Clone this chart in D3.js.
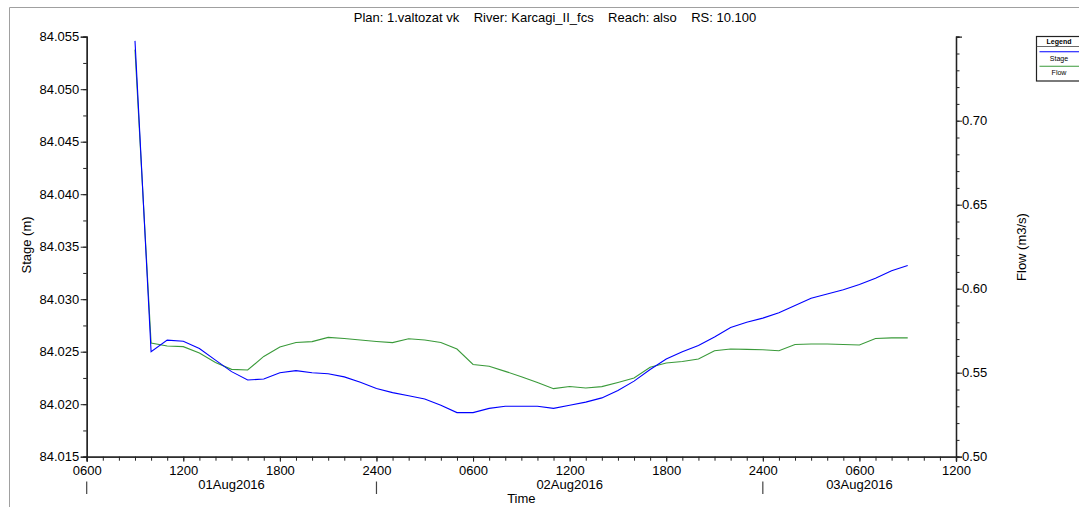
<!DOCTYPE html>
<html>
<head>
<meta charset="utf-8">
<script src="https://cdn.jsdelivr.net/npm/d3@7"></script>
<style>
  html, body { margin: 0; padding: 0; background: #fff; }
  svg { display: block; font-family: "Liberation Sans", Arial, sans-serif; }
</style>
</head>
<body>
<svg id="chart" width="1079" height="507"></svg>
<script>
// Hourly output times (01Aug2016 0900 .. 03Aug2016 0900)
const times = [
  "2016-08-01 09:00","2016-08-01 10:00","2016-08-01 11:00","2016-08-01 12:00","2016-08-01 13:00",
  "2016-08-01 14:00","2016-08-01 15:00","2016-08-01 16:00","2016-08-01 17:00","2016-08-01 18:00",
  "2016-08-01 19:00","2016-08-01 20:00","2016-08-01 21:00","2016-08-01 22:00","2016-08-01 23:00",
  "2016-08-02 00:00","2016-08-02 01:00","2016-08-02 02:00","2016-08-02 03:00","2016-08-02 04:00",
  "2016-08-02 05:00","2016-08-02 06:00","2016-08-02 07:00","2016-08-02 08:00","2016-08-02 09:00",
  "2016-08-02 10:00","2016-08-02 11:00","2016-08-02 12:00","2016-08-02 13:00","2016-08-02 14:00",
  "2016-08-02 15:00","2016-08-02 16:00","2016-08-02 17:00","2016-08-02 18:00","2016-08-02 19:00",
  "2016-08-02 20:00","2016-08-02 21:00","2016-08-02 22:00","2016-08-02 23:00","2016-08-03 00:00",
  "2016-08-03 01:00","2016-08-03 02:00","2016-08-03 03:00","2016-08-03 04:00","2016-08-03 05:00",
  "2016-08-03 06:00","2016-08-03 07:00","2016-08-03 08:00","2016-08-03 09:00"
];

// Water surface elevation (m)
const stage = [
  84.0546, 84.0250, 84.0261, 84.0260, 84.0253, 84.0242, 84.0231, 84.0223, 84.0224, 84.0230,
  84.0232, 84.0230, 84.0229, 84.0226, 84.0221, 84.0215, 84.0211, 84.0208, 84.0205, 84.0199,
  84.0192, 84.0192, 84.0196, 84.0198, 84.0198, 84.0198, 84.0196, 84.0199, 84.0202, 84.0206,
  84.0213, 84.0222, 84.0233, 84.0243, 84.0250, 84.0256, 84.0264, 84.0273, 84.0278, 84.0282,
  84.0287, 84.0294, 84.0301, 84.0305, 84.0309, 84.0314, 84.0320, 84.0327, 84.0332
];

// Discharge (m3/s)
const flow = [
  0.7423, 0.5677, 0.5659, 0.5655, 0.5617, 0.5561, 0.5520, 0.5516, 0.5597, 0.5653,
  0.5680, 0.5685, 0.5710, 0.5704, 0.5695, 0.5686, 0.5679, 0.5702, 0.5695, 0.5680,
  0.5641, 0.5549, 0.5538, 0.5508, 0.5476, 0.5442, 0.5405, 0.5418, 0.5409, 0.5417,
  0.5442, 0.5468, 0.5532, 0.5558, 0.5567, 0.5582, 0.5631, 0.5641, 0.5639, 0.5637,
  0.5631, 0.5668, 0.5671, 0.5671, 0.5668, 0.5665, 0.5704, 0.5707, 0.5707
];

const stageTicks = [84.015, 84.020, 84.025, 84.030, 84.035, 84.040, 84.045, 84.050, 84.055];
const flowTicks = [0.50, 0.55, 0.60, 0.65, 0.70];
const timeRange = ["2016-08-01 06:00", "2016-08-03 12:00"];
const dayLabels = ["01Aug2016", "02Aug2016", "03Aug2016"];
const titleText = "Plan: 1.valtozat vk    River: Karcagi_II_fcs    Reach: also    RS: 10.100";
const seriesNames = ["Stage", "Flow"];
const seriesColors = { Stage: "#0000ff", Flow: "#3a9a3a" };

const parse = d3.timeParse("%Y-%m-%d %H:%M");
const tDates = times.map(parse);
const tStart = parse(timeRange[0]), tEnd = parse(timeRange[1]);

const svg = d3.select("#chart");
const L = 86.7, R = 956, T = 36.7, B = 456.7;

const x = d3.scaleTime().domain([tStart, tEnd]).range([L, R]);
const yS = d3.scaleLinear().domain([84.015, 84.055]).range([B, T]);
const yF = d3.scaleLinear().domain([0.50, 0.75]).range([B, T]);

// outer frame edges
svg.append("path").attr("d", "M9.5,507 L9.5,7.5 L1079,7.5")
  .attr("fill", "none").attr("stroke", "#a0a0a0").attr("stroke-width", 1);

// title
svg.append("text").attr("x", 555).attr("y", 21.5).attr("text-anchor", "middle")
  .attr("font-size", 13).attr("fill", "#000").style("white-space", "pre").text(titleText);

const axisColor = "#222";
function styleAxis(g) {
  g.select(".domain").attr("stroke", axisColor).attr("stroke-width", 1.3);
  g.selectAll(".tick line").attr("stroke", axisColor);
  g.selectAll(".tick text").attr("fill", "#000").attr("font-size", 13)
    .attr("font-family", "Liberation Sans, Arial, sans-serif");
}

// left stage axis: minor then major
const minorS = d3.range(0, 17).map(i => 84.015 + i * 0.0025);
svg.append("g").attr("transform", `translate(${L},0)`)
  .call(d3.axisLeft(yS).tickValues(minorS).tickSize(3.5).tickFormat(""))
  .call(styleAxis);
svg.append("g").attr("transform", `translate(${L},0)`)
  .call(d3.axisLeft(yS).tickValues(stageTicks).tickSize(6).tickPadding(1.5).tickFormat(d3.format(".3f")))
  .call(styleAxis);

// right flow axis
const minorF = d3.range(0, 26).map(i => 0.50 + i * 0.01);
svg.append("g").attr("transform", `translate(${R},0)`)
  .call(d3.axisRight(yF).tickValues(minorF).tickSize(3.5).tickFormat(""))
  .call(styleAxis);
svg.append("g").attr("transform", `translate(${R},0)`)
  .call(d3.axisRight(yF).tickValues(flowTicks).tickSize(6).tickPadding(0).tickFormat(d3.format(".2f")))
  .call(styleAxis);

// bottom time axis
const hourFmt = d => (d.getHours() === 0 ? "2400" : d3.timeFormat("%H%M")(d));
svg.append("g").attr("transform", `translate(0,${B})`)
  .call(d3.axisBottom(x).ticks(d3.timeHour.every(1)).tickSize(4).tickFormat(""))
  .call(styleAxis);
svg.append("g").attr("transform", `translate(0,${B})`)
  .call(d3.axisBottom(x).tickValues(d3.timeHour.range(tStart, d3.timeHour.offset(tEnd, 1), 6))
    .tickSize(5).tickPadding(4).tickFormat(hourFmt))
  .call(styleAxis);

// day labels and separators
const dayStarts = [tStart].concat(d3.timeDay.range(d3.timeDay.offset(d3.timeDay.floor(tStart), 1), tEnd));
dayStarts.forEach((ds, i) => {
  const de = i + 1 < dayStarts.length ? dayStarts[i + 1] : tEnd;
  const mid = new Date((ds.getTime() + de.getTime()) / 2);
  svg.append("text").attr("x", x(mid)).attr("y", 489).attr("text-anchor", "middle")
    .attr("font-size", 13).text(dayLabels[i]);
  svg.append("line").attr("x1", x(ds)).attr("x2", x(ds)).attr("y1", 481.5).attr("y2", 494)
    .attr("stroke", "#444").attr("stroke-width", 1.2);
});

// axis titles
svg.append("text").attr("x", R / 2 + L / 2).attr("y", 503).attr("text-anchor", "middle")
  .attr("font-size", 13).text("Time");
svg.append("text").attr("transform", "translate(31,245) rotate(-90)").attr("text-anchor", "middle")
  .attr("font-size", 13).text("Stage (m)");
svg.append("text").attr("transform", "translate(1026,247) rotate(-90)").attr("text-anchor", "middle")
  .attr("font-size", 13).text("Flow (m3/s)");

// series lines
const lineF = d3.line().x((d, i) => x(tDates[i])).y(d => yF(d));
const lineS = d3.line().x((d, i) => x(tDates[i])).y(d => yS(d));
svg.append("path").datum(flow).attr("d", lineF).attr("fill", "none")
  .attr("stroke", seriesColors.Flow).attr("stroke-width", 1.1);
svg.append("path").datum(stage).attr("d", lineS).attr("fill", "none")
  .attr("stroke", seriesColors.Stage).attr("stroke-width", 1.1);

// legend
const lg = svg.append("g");
lg.append("rect").attr("x", 1036.5).attr("y", 36.5).attr("width", 60).attr("height", 44.5)
  .attr("fill", "#fff").attr("stroke", "#222").attr("stroke-width", 1.2);
lg.append("line").attr("x1", 1036.5).attr("x2", 1079).attr("y1", 46.5).attr("y2", 46.5)
  .attr("stroke", "#444").attr("stroke-width", 0.8);
lg.append("text").attr("x", 1059).attr("y", 44).attr("text-anchor", "middle")
  .attr("font-size", 7).attr("font-weight", "bold").text("Legend");
seriesNames.forEach((name, i) => {
  const y0 = 51.7 + i * 14.6;
  lg.append("line").attr("x1", 1039.5).attr("x2", 1079).attr("y1", y0).attr("y2", y0)
    .attr("stroke", seriesColors[name]).attr("stroke-width", 1.1);
  lg.append("text").attr("x", 1059).attr("y", y0 + 9).attr("text-anchor", "middle")
    .attr("font-size", 7).text(name);
});
</script>
</body>
</html>
